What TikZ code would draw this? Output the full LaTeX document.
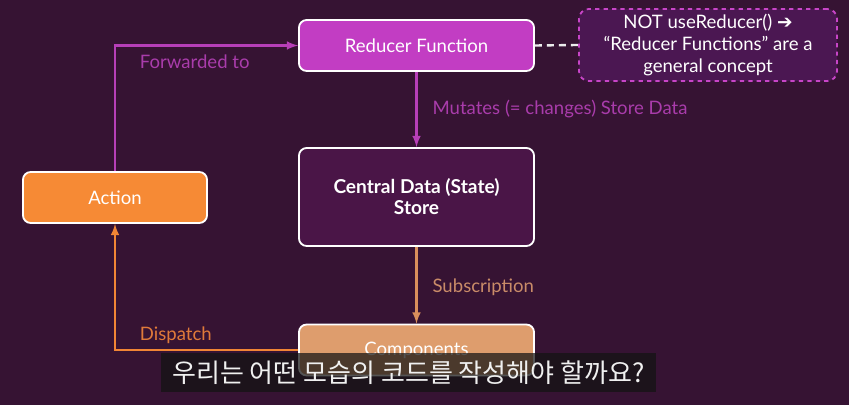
\documentclass[tikz,border=0pt]{standalone}
\usepackage{fontspec}
\setmainfont{Lato}
\newfontfamily\symfont{DejaVu Sans}
\newfontfamily\cjk{Noto Sans CJK KR}
\usepackage{xcolor}
\usepackage{tikz}
\usetikzlibrary{positioning, calc, arrows.meta}

\definecolor{bgpurple}{HTML}{361333}
\definecolor{redmag}{HTML}{C23DC3}
\definecolor{notefill}{HTML}{4B1752}
\definecolor{notedash}{HTML}{C845C8}
\definecolor{storefill}{HTML}{4A1547}
\definecolor{actorange}{HTML}{F68A35}
\definecolor{comptan}{HTML}{DE9D6D}
\definecolor{magline}{HTML}{B73FB8}
\definecolor{magtext}{HTML}{A93CAB}
\definecolor{tanline}{HTML}{D98F5C}
\definecolor{tantext}{HTML}{C98B68}
\definecolor{orline}{HTML}{F18535}
\definecolor{ortext}{HTML}{E07A3A}

\begin{document}
\begin{tikzpicture}[
    x=0.025cm, y=-0.025cm,
    >=latex,
    blk/.style={draw=white, line width=1.3pt, rounded corners=5.5pt, align=center, text=white,
                font=\fontsize{13.2pt}{15pt}\selectfont, inner sep=2pt},
    reducerbox/.style={blk, fill=redmag, minimum width=5.875cm, minimum height=1.275cm},
    storebox/.style={blk, fill=storefill, minimum width=5.875cm, minimum height=2.45cm,
                     font=\fontsize{13.6pt}{15pt}\selectfont\bfseries},
    actionbox/.style={blk, fill=actorange, minimum width=4.6cm, minimum height=1.275cm},
    compbox/.style={blk, fill=comptan, minimum width=5.875cm, minimum height=1.275cm},
    notebox/.style={draw=notedash, dashed, line width=1.3pt, rounded corners=7pt, fill=notefill,
                    text=white, align=center, minimum width=6.45cm, minimum height=1.8cm,
                    font=\fontsize{13.2pt}{16pt}\selectfont, inner sep=2pt},
    flow/.style={->, line width=1.7pt},
    magflow/.style={flow, magline},
    tanflow/.style={flow, tanline},
    orflow/.style={flow, orline},
    notelink/.style={line width=1.7pt, white!85!gray, dash pattern=on 5pt off 3.5pt},
    lbl/.style={inner sep=0pt, font=\fontsize{13.2pt}{15pt}\selectfont},
    subbar/.style={fill=black!85!gray, fill opacity=0.72, minimum width=12.375cm, minimum height=0.975cm},
]

% ─── Background ───
\fill[bgpurple] (0, 0) rectangle (849, 405);
\useasboundingbox (0, 0) rectangle (849, 405);

% ─── Boxes ───
\node[reducerbox] at (416.5, 45.5) (reducer) {Reducer Function};
\node[notebox]    at (708, 45)     (note)    {NOT useReducer() {\symfont\bfseries ➔}\\``Reducer Functions'' are a\\general concept};
\node[storebox]   at (416.5, 197)  (store)   {Central Data (State)\\Store};
\node[actionbox]  at (115, 197.5)  (action)  {Action};
\node[compbox]    at (416.5, 350)  (comps)   {Components};

% ─── Flows ───
\draw[notelink] (reducer.east) -- (note.west);
\draw[magflow] (reducer.south) -- node[lbl, text=magtext, anchor=west, xshift=10.6pt] {Mutates (= changes) Store Data} (store.north);
\draw[tanflow] (store.south) -- node[lbl, text=tantext, anchor=west, xshift=10.6pt, yshift=-1.5pt] {Subscription} (comps.north);
\draw[orflow]  (comps.west) -| node[lbl, text=ortext, pos=0.435, anchor=west, yshift=10.5pt] {Dispatch} (action.south);
\draw[magflow] (action.north) |- node[lbl, text=magtext, pos=0.565, anchor=west, yshift=-11.5pt] {Forwarded to} (reducer.west);

% ─── Subtitle overlay ───
\node[subbar] at (408.5, 372.5) (subtitle) {};
\node[text=gray!12, font=\cjk\fontsize{18.5pt}{20pt}\selectfont] at (subtitle.center) (subtext) {우리는 어떤 모습의 코드를 작성해야 할까요?};

\end{tikzpicture}
\end{document}
